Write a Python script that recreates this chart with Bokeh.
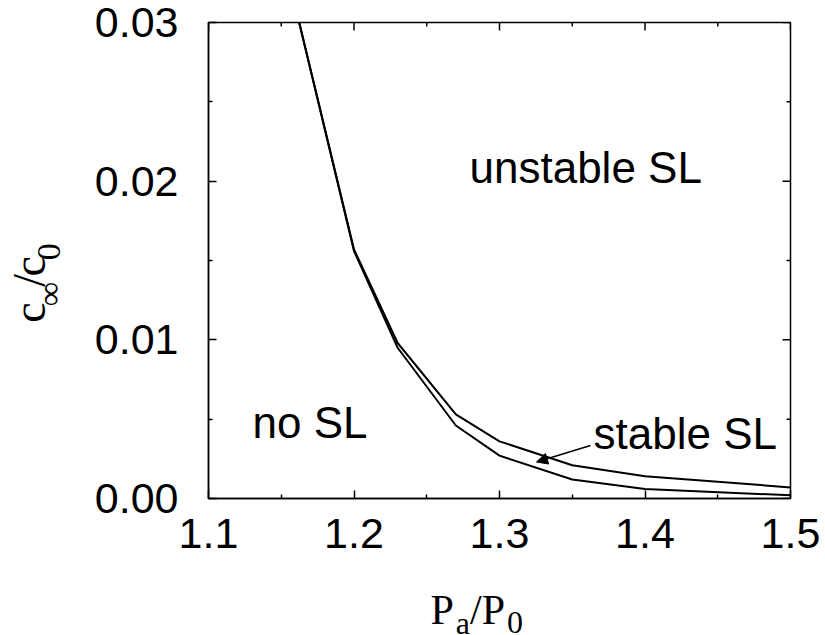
import math
from bokeh.plotting import figure
from bokeh.layouts import column, row
from bokeh.models import (Range1d, FixedTicker, PrintfTickFormatter,
                          Label, Arrow, NormalHead)
from bokeh.core.properties import value
from bokeh.embed import file_html
from bokeh.resources import INLINE

# ---- data ----
pa_ratio = [1.15, 1.20, 1.23, 1.27, 1.30, 1.35, 1.40, 1.50]
c_upper = [0.0347, 0.0157, 0.0098, 0.0053, 0.0036, 0.0021, 0.0014, 0.0007]
c_lower = [0.0347, 0.0156, 0.0095, 0.0046, 0.0027, 0.0012, 0.0006, 0.0002]

x_ticks = [1.1, 1.2, 1.3, 1.4, 1.5]
x_minor = [1.15, 1.25, 1.35, 1.45]
y_ticks = [0.00, 0.01, 0.02, 0.03]
y_minor = [0.005, 0.015, 0.025]

region_labels = ["unstable SL", "no SL", "stable SL"]

# ---- geometry (page pixels) ----
X0, X1 = 1.1, 1.5
Y0, Y1 = 0.0, 0.03
TOTAL_W, TOTAL_H = 824, 634
YLAB_W = 70                 # strip holding the y-axis title
FRAME_L, FRAME_T = 208, 22  # frame position on the page
FW, FH = 582, 476
MAIN_H = 593                # height of the main figure
XLAB_H = TOTAL_H - MAIN_H   # strip holding the x-axis title
MAIN_W = TOTAL_W - YLAB_W

SANS = "Liberation Sans"
SERIF = "Liberation Serif"
MID_SANS = 0.347    # baseline -> em-box middle, fraction of font size
MID_SERIF = 0.3375

p = figure(width=MAIN_W, height=MAIN_H, title=None,
           x_range=Range1d(X0, X1), y_range=Range1d(Y0, Y1),
           min_border_left=FRAME_L - YLAB_W,
           min_border_right=MAIN_W - (FRAME_L - YLAB_W) - FW,
           min_border_top=FRAME_T, min_border_bottom=MAIN_H - FRAME_T - FH,
           output_backend="svg", toolbar_location=None)
p.background_fill_color = "white"
p.border_fill_color = "white"
p.outline_line_color = "black"
p.outline_line_width = 1.5
p.xgrid.grid_line_color = None
p.ygrid.grid_line_color = None

def style_axis(ax, ticks, minor, fmt, standoff):
    ax.ticker = FixedTicker(ticks=ticks, minor_ticks=minor)
    ax.formatter = PrintfTickFormatter(format=fmt)
    ax.axis_line_color = "black"
    ax.axis_line_width = 1.5
    ax.major_tick_line_color = "black"
    ax.major_tick_line_width = 1.5
    ax.minor_tick_line_color = "black"
    ax.minor_tick_line_width = 1.5
    ax.major_tick_in = 8
    ax.major_tick_out = 0
    ax.minor_tick_in = 4
    ax.minor_tick_out = 0
    ax.major_label_text_font = SANS
    ax.major_label_text_font_size = "43px"
    ax.major_label_text_color = "black"
    ax.major_label_standoff = standoff
    ax.axis_label = None

style_axis(p.xaxis[0], x_ticks, x_minor, "%.1f", 20)
style_axis(p.yaxis[0], y_ticks, y_minor, "%.2f", 30)

# mirrored inward ticks on the top and right frame edges (half of each
# centred dash is clipped away by the frame)
p.scatter(x_ticks, [Y1] * len(x_ticks), marker="dash", size=16, angle=math.pi / 2,
          line_color="black", line_width=1.5)
p.scatter(x_minor, [Y1] * len(x_minor), marker="dash", size=8, angle=math.pi / 2,
          line_color="black", line_width=1.5)
p.scatter([X1] * len(y_ticks), y_ticks, marker="dash", size=16,
          line_color="black", line_width=1.5)
p.scatter([X1] * len(y_minor), y_minor, marker="dash", size=8,
          line_color="black", line_width=1.5)

# ---- curves ----
p.line(pa_ratio, c_upper, line_color="black", line_width=2)
p.line(pa_ratio, c_lower, line_color="black", line_width=2)

# page pixel -> data
def dx(px):
    return X0 + (px - FRAME_L) / FW * (X1 - X0)
def dy(py):
    return Y1 - (py - FRAME_T) / FH * (Y1 - Y0)

def add_label(txt, px, base_py, size=44):
    p.add_layout(Label(x=dx(px), y=dy(base_py - MID_SANS * size), text=txt,
                       text_font=SANS, text_font_size=f"{size}px",
                       text_color="black", text_align="left",
                       text_baseline="middle"))

add_label(region_labels[0], 469, 182)
add_label(region_labels[1], 252, 437)
add_label(region_labels[2], 593, 448)

p.add_layout(Arrow(end=NormalHead(size=11, fill_color="black", line_color="black",
                                  line_width=1),
                   x_start=dx(590), y_start=dy(445), x_end=dx(536), y_end=dy(461.5),
                   line_color="black", line_width=1.5))

# ---- strip figures for the axis titles (ranges in pixels) ----
def strip(w, h):
    f = figure(width=w, height=h, title=None,
               x_range=Range1d(0, w), y_range=Range1d(0, h),
               min_border=0, min_border_left=0, min_border_right=0,
               min_border_top=0, min_border_bottom=0,
               x_axis_location=None, y_axis_location=None,
               output_backend="svg", toolbar_location=None)
    f.outline_line_color = None
    f.background_fill_color = "white"
    f.border_fill_color = "white"
    for g in f.grid:
        g.visible = False
    return f

# y title: c_inf / c_0, rotated, in the left strip
Y_MAIN, Y_SUB = 46, 34
Y_SHIFT = 47   # empirical correction for the rotated title placement
yf = strip(YLAB_W, MAIN_H)
ang = math.pi / 2
bx, sub_bx = 45, 60
yy = 327 + Y_SHIFT
for t, is_sub, adv in [("c", False, 0.444 * Y_MAIN), ("\u221e", True, 0.713 * Y_SUB),
                       ("/", False, 0.278 * Y_MAIN), ("c", False, 0.444 * Y_MAIN),
                       ("0", True, 0.5 * Y_SUB)]:
    size = Y_SUB if is_sub else Y_MAIN
    ax_x = (sub_bx if is_sub else bx) - MID_SERIF * size
    yf.text(x=[ax_x], y=[MAIN_H - yy], text=[t], angle=ang,
            text_font=value(SERIF), text_font_size=value(f"{size}px"),
            text_color="black", text_align="left", text_baseline="middle")
    yy -= adv

# x title: P_a / P_0 in the bottom strip
MAIN, SUB = 42, 32
xf = strip(TOTAL_W, XLAB_H)
base, sub_base = 624, 633
xx = 430
for t, is_sub, adv in [("P", False, 0.556 * MAIN), ("a", True, 0.444 * SUB + 2),
                       ("/", False, 0.278 * MAIN), ("P", False, 0.556 * MAIN + 2),
                       ("0", True, 0.5 * SUB)]:
    size = SUB if is_sub else MAIN
    by = (sub_base if is_sub else base) - MID_SERIF * size
    xf.text(x=[xx + (2 if t == "a" else 0)], y=[TOTAL_H - by], text=[t],
            text_font=value(SERIF), text_font_size=value(f"{size}px"),
            text_color="black", text_align="left", text_baseline="middle")
    xx += adv

layout = column(row(yf, p, spacing=0), xf, spacing=0)
open("out.html", "w").write(file_html(layout, INLINE))
